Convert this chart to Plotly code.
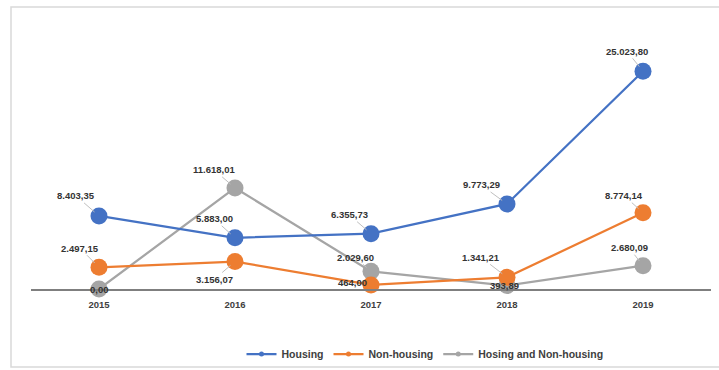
import plotly.graph_objects as go

years = ["2015", "2016", "2017", "2018", "2019"]
housing = [8403.35, 5883.00, 6355.73, 9773.29, 25023.80]
non_housing = [2497.15, 3156.07, 464.00, 1341.21, 8774.14]
both = [0.00, 11618.01, 2029.60, 393.89, 2680.09]

series_names = ["Housing", "Non-housing", "Hosing and Non-housing"]
colors = ["#4472C4", "#ED7D31", "#A5A5A5"]

# label offsets (pixels) for data labels, per series
off_housing = [(-23, -20), (-21, -19), (-22, -19), (-26, -19), (-16, -20)]
off_non = [(-19, -19), (-21, 18), (-19, -2), (-26, -20), (-19, -17)]
off_both = [(0, 0), (-21, -18), (-16, -14), (-3, 0), (-14, -18)]


def fmt(v):
    s = f"{v:,.2f}"
    return s.replace(",", "X").replace(".", ",").replace("X", ".")


W, H = 719, 370
L, R, T, B = 31, 8, 28, 81
PW = W - L - R
PH = H - T - B


def px(x):
    return (x - L) / PW


def py(y):
    return (H - B - y) / PH


fig = go.Figure()

data = [housing, non_housing, both]
offs = [off_housing, off_non, off_both]

# draw order: gray, orange, blue
for i in [2, 1, 0]:
    fig.add_trace(go.Scatter(
        x=years, y=data[i], mode="lines+markers",
        line=dict(color=colors[i], width=2.25),
        marker=dict(size=17, color=colors[i]),
        showlegend=False, cliponaxis=False, hoverinfo="skip",
    ))

for i in range(3):
    fig.add_trace(go.Scatter(
        x=[None], y=[None], mode="lines+markers", name=series_names[i],
        line=dict(color=colors[i], width=2.25),
        marker=dict(size=5, color=colors[i]),
    ))

for i in range(3):
    for j, yr in enumerate(years):
        ax, ay = offs[i][j]
        fig.add_annotation(
            x=j, y=data[i][j], xref="x", yref="y", text=fmt(data[i][j]),
            showarrow=True, ax=ax, ay=ay, arrowhead=0, arrowwidth=1,
            arrowcolor="#BFBFBF", standoff=6,
            font=dict(family="Liberation Sans", size=9.5, color="#333333", weight="bold"),
        )

fig.add_shape(type="rect", xref="paper", yref="paper",
              x0=px(11), x1=px(730), y0=py(367), y1=py(7),
              line=dict(color="#D9D9D9", width=1.5), layer="below")

fig.update_layout(
    width=W, height=H,
    margin=dict(l=L, r=R, t=T, b=B, autoexpand=False),
    paper_bgcolor="white", plot_bgcolor="white",
    font=dict(family="Liberation Sans", size=10, color="#404040"),
    xaxis=dict(type="category", range=[-0.5, 4.5], showgrid=False,
               showline=True, linecolor="#7F7F7F", linewidth=1.5,
               ticks="outside", ticklen=6, tickcolor="rgba(0,0,0,0)",
               tickfont=dict(family="Liberation Sans", size=9.5, color="#404040", weight="bold")),
    yaxis=dict(range=[0, 30000], showgrid=False, showticklabels=False,
               zeroline=False, showline=False),
    legend=dict(orientation="h", x=px(425), xanchor="center",
                yref="container", y=1 - 354 / H, yanchor="middle",
                font=dict(family="Liberation Sans", size=10.5, color="#404040", weight="bold"),
                itemwidth=30, bgcolor="rgba(0,0,0,0)"),
)

fig.write_html("out.html")
